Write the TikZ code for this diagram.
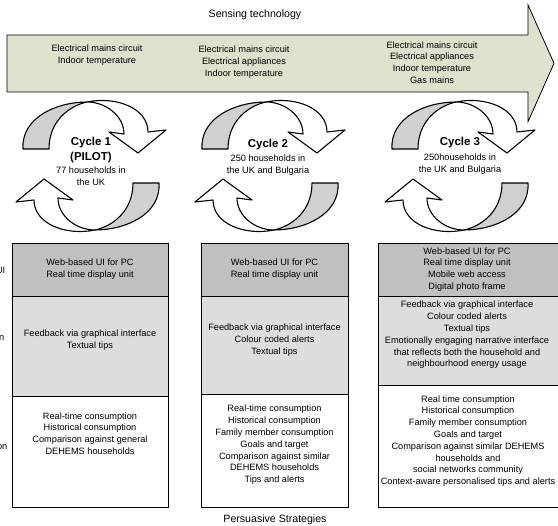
\documentclass[tikz,border=0pt]{standalone}
\usepackage{fontspec}
\setmainfont{Liberation Sans}
\definecolor{arrowfill}{RGB}{221,226,205}
\definecolor{uigray}{RGB}{192,192,192}
\definecolor{midgray}{RGB}{221,221,221}
\definecolor{cycgray}{RGB}{208,208,208}
\tikzset{
  txt/.style={font=\fontsize{9.2}{11.8}\selectfont, align=center, inner sep=0pt},
  ttl/.style={font=\fontsize{11.5}{14.5}\selectfont\bfseries, align=center, inner sep=0pt},
  big/.style={font=\fontsize{10.6}{13}\selectfont, inner sep=0pt},
  cell/.style={draw=black, line width=0.8pt},
  cycline/.style={draw=black, line width=1.1pt, line join=round},
  cycpart/.pic={
    \filldraw[cycline, fill=cycgray] (-68,-17) -- (-42,-17)
      .. controls (-42,-45) and (-22,-60) .. (-4,-64)
      .. controls (-35,-64) and (-70,-48) .. (-68,-17) -- cycle;
    \filldraw[cycline, fill=white] (-4,-64)
      .. controls (25,-70) and (57,-58) .. (57,-34)
      -- (75,-36) -- (47,-13) -- (18,-34) -- (33,-32)
      .. controls (33,-50) and (15,-64) .. (-4,-64) -- cycle;
  }
}
\begin{document}
\begin{tikzpicture}[x=1pt,y=-1pt]
\useasboundingbox (0,0) rectangle (558,526);
\fill[white] (0,0) rectangle (558,526);

% sensing technology arrow
\filldraw[fill=arrowfill, draw=black, line width=0.8pt, line join=miter]
  (7,35) -- (528,35) -- (528,5) -- (554,63.3) -- (528,121.7) -- (528,92) -- (7,92) -- cycle;
\node[big] (sensing) at (255,15) {Sensing technology};
\node[txt] (s1) at (97,55) {Electrical mains circuit\\Indoor temperature};
\node[txt] (s2) at (244,62) {Electrical mains circuit\\Electrical appliances\\Indoor temperature};
\node[txt] (s3) at (432,62.5) {Electrical mains circuit\\Electrical appliances\\Indoor temperature\\Gas mains};

% cycles
\pic at (91,166) {cycpart};
\pic[rotate=180] at (91,166) {cycpart};
\pic at (270,166) {cycpart};
\pic[rotate=180] at (270,166) {cycpart};
\pic at (460,166) {cycpart};
\pic[rotate=180] at (460,166) {cycpart};

\node[ttl] (c1t) at (91,150) {Cycle 1\\(PILOT)};
\node[txt] (c1s) at (91,176) {77 households in\\the UK};
\node[ttl] (c2t) at (268,145) {Cycle 2};
\node[txt] (c2s) at (268,165) {250 households in\\the UK and Bulgaria};
\node[ttl] (c3t) at (460,143) {Cycle 3};
\node[txt] (c3s) at (460,164.5) {250households in\\the UK and Bulgaria};

% column 1
\filldraw[cell, fill=uigray] (12,243) rectangle (168,296);
\filldraw[cell, fill=midgray] (12,296) rectangle (168,396);
\filldraw[cell, fill=white] (12,396) rectangle (168,507);
% column 2
\filldraw[cell, fill=uigray] (201,243) rectangle (348,296);
\filldraw[cell, fill=midgray] (201,296) rectangle (348,394);
\filldraw[cell, fill=white] (201,394) rectangle (348,507);
% column 3
\filldraw[cell, fill=uigray] (378,243) rectangle (562,296);
\filldraw[cell, fill=midgray] (378,296) rectangle (562,385);
\filldraw[cell, fill=white] (378,385) rectangle (562,507);

\node[txt] (u1) at (90,269.5) {Web-based UI for PC\\Real time display unit};
\node[txt] (u2) at (274.5,269.5) {Web-based UI for PC\\Real time display unit};
\node[txt] (u3) at (467,269.5) {Web-based UI for PC\\Real time display unit\\Mobile web access\\Digital photo frame};

\node[txt] (m1) at (90,340) {Feedback via graphical interface\\Textual tips};
\node[txt] (m2) at (274.5,340) {Feedback via graphical interface\\Colour coded alerts\\Textual tips};
\node[txt] (m3) at (467,335) {Feedback via graphical interface\\Colour coded alerts\\Textual tips\\Emotionally engaging narrative interface\\that reflects both the household and\\neighbourhood energy usage};

\node[txt] (p1) at (90,433.5) {Real-time consumption\\Historical consumption\\Comparison against general\\DEHEMS households};
\node[txt] (p2) at (274.5,445) {Real-time consumption\\Historical consumption\\Family member consumption\\Goals and target\\Comparison against similar\\DEHEMS households\\Tips and alerts};
\node[txt] (p3) at (468,441) {Real time consumption\\Historical consumption\\Family member consumption\\Goals and target\\Comparison against similar DEHEMS\\households and\\social networks community\\Context-aware personalised tips and alerts};

% cut-off row labels
\node[txt, anchor=east] (l1) at (5.5,270) {UI};
\node[txt, anchor=east] (l2) at (4.5,338) {n};
\node[txt, anchor=east] (l3) at (7.5,447) {on};

\node[big] (persuasive) at (275,520) {Persuasive Strategies};
\end{tikzpicture}
\end{document}
